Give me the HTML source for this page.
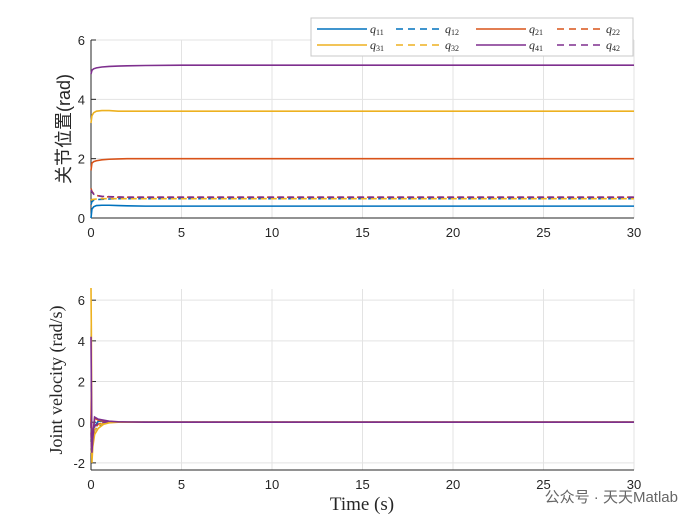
<!DOCTYPE html>
<html><head><meta charset="utf-8"><style>
body{margin:0;background:#fff}
svg text{font-family:"Liberation Sans","Noto Sans CJK SC",sans-serif;fill:#262626}
</style></head><body>
<svg id="c" width="700" height="525" xmlns="http://www.w3.org/2000/svg"></svg>
<script>
const times=[0,0.05,0.15,0.3,0.6,1,1.5,2,3,5,30];
const posNames=["q11","q12","q21","q22","q31","q32","q41","q42"];
const posQ11=[0,0.3,0.38,0.42,0.43,0.43,0.42,0.41,0.4,0.4,0.4];
const posQ12=[0.45,0.55,0.6,0.62,0.63,0.64,0.65,0.65,0.65,0.65,0.65];
const posQ21=[1.6,1.85,1.9,1.93,1.96,1.98,1.99,2,2,2,2];
const posQ22=[1.0,0.9,0.82,0.76,0.72,0.71,0.7,0.7,0.7,0.7,0.7];
const posQ31=[3.2,3.45,3.55,3.6,3.62,3.62,3.6,3.6,3.6,3.6,3.6];
const posQ32=[0.6,0.62,0.63,0.64,0.65,0.65,0.65,0.65,0.65,0.65,0.65];
const posQ41=[4.85,4.98,5.03,5.06,5.09,5.11,5.12,5.13,5.14,5.15,5.15];
const posQ42=[0.95,0.88,0.8,0.76,0.73,0.72,0.71,0.7,0.7,0.7,0.7];
const velTimes=[0,0.02,0.05,0.1,0.2,0.4,0.7,1,1.5,2,3,5,30];
const velQ11=[0,0.5,-0.6,-0.4,-0.2,0.05,0.05,0.02,0.01,0,0,0,0];
const velQ12=[0,-0.5,-1.0,-0.6,-0.4,-0.2,-0.05,0,0,0,0,0,0];
const velQ21=[0,1.5,-1.0,-0.6,0.2,0.1,0.05,0.03,0.01,0,0,0,0];
const velQ22=[0,-1.0,-1.8,-0.8,-0.3,-0.1,-0.03,0,0,0,0,0,0];
const velQ31=[6.6,4.5,-2.0,-1.2,-0.6,-0.3,-0.1,-0.03,0,0,0,0,0];
const velQ32=[0,-1.5,-1.2,-0.8,-0.4,-0.15,-0.05,0,0,0,0,0,0];
const velQ41=[4.2,2.0,-1.5,-0.8,0.25,0.15,0.1,0.05,0.02,0.01,0,0,0];
const velQ42=[0,-1.2,-1.6,-0.7,-0.2,-0.05,0,0,0,0,0,0,0];
const xTicks=[0,5,10,15,20,25,30];
const posTicks=[0,2,4,6];
const velTicks=[-2,0,2,4,6];
const colors={q1:"#0072BD",q2:"#D95319",q3:"#EDB120",q4:"#7E2F8E"};
const NS="http://www.w3.org/2000/svg";
const svg=document.getElementById("c");
function mk(tag,attrs,parent){const e=document.createElementNS(NS,tag);for(const k in attrs)e.setAttribute(k,attrs[k]);(parent||svg).appendChild(e);return e;}
const X0=91,X1=634;
function xs(t){return X0+(t/30)*(X1-X0);}
function axes(top,bot,ymin,ymax,yticks,name){
  const ys=v=>bot-(v-ymin)/(ymax-ymin)*(bot-top);
  const g=mk("g",{});
  
  
  xTicks.forEach(t=>{mk("line",{x1:xs(t),x2:xs(t),y1:top,y2:bot,stroke:"#e3e3e3","stroke-width":1},g);
    const tx=mk("text",{x:xs(t),y:bot+19,"font-size":13,"text-anchor":"middle"},g);tx.textContent=t;
    
    });
  yticks.forEach(v=>{mk("line",{x1:X0,x2:X1,y1:ys(v),y2:ys(v),stroke:"#e3e3e3","stroke-width":1},g);
    const tx=mk("text",{x:X0-6,y:ys(v)+5,"font-size":13,"text-anchor":"end"},g);tx.textContent=v;
    
    
    mk("line",{x1:X0,x2:X0+5,y1:ys(v),y2:ys(v),stroke:"#262626"},g);});
  mk("line",{x1:X0,x2:X0,y1:top,y2:bot,stroke:"#262626"},g);
  mk("line",{x1:X0,x2:X1,y1:bot,y2:bot,stroke:"#262626"},g);
  return ys;
}
function series(tt,vals,ys,color,dash,name){
  const d=tt.map((t,i)=>(i?"L":"M")+xs(t).toFixed(2)+","+ys(vals[i]).toFixed(2)).join("");
  const p=mk("path",{d:d,fill:"none",stroke:color,"stroke-width":1.6,"stroke-dasharray":dash?"6,4":"none"});
  
  
}
const ys1=axes(40,218,0,6,posTicks,"position-axes");
const pos=[posQ11,posQ12,posQ21,posQ22,posQ31,posQ32,posQ41,posQ42];
pos.forEach((v,i)=>series(times,v,ys1,colors["q"+(Math.floor(i/2)+1)],i%2==1,"pos-line-"+posNames[i]));
const ys2=axes(289,470,-2.35,6.55,velTicks,"velocity-axes");
const vel=[velQ11,velQ12,velQ21,velQ22,velQ31,velQ32,velQ41,velQ42];
[0,1,2,3,5,7,4,6].forEach(i=>series(velTimes,vel[i],ys2,colors["q"+(Math.floor(i/2)+1)],i%2==1,"vel-line-"+posNames[i]));
let t=mk("text",{x:0,y:0,"font-size":18,"text-anchor":"middle",transform:"translate(70,129) rotate(-90)"});
t.textContent="关节位置(rad)";
t=mk("text",{x:0,y:0,"font-size":18,"text-anchor":"middle",transform:"translate(62,380) rotate(-90)",style:"font-family:'Liberation Serif',serif"});
t.textContent="Joint velocity (rad/s)";
t=mk("text",{x:362,y:510,"font-size":19,"text-anchor":"middle",style:"font-family:'Liberation Serif',serif"});
t.textContent="Time (s)";
const lg=mk("g",{});


mk("rect",{x:311,y:18,width:322,height:38,fill:"#fff",stroke:"#c8c8c8"},lg);
const colX=[317,396,476,557];
posNames.forEach((n,i)=>{
  const row=Math.floor(i/4);
  const col=i%4;const y=row?45:29;
  const c=colors["q"+(Math.floor(i/2)+1)];
  const len=i%2?46:50;
  mk("line",{x1:colX[col],x2:colX[col]+len,y1:y,y2:y,stroke:c,"stroke-width":1.6,"stroke-dasharray":i%2?"7,5":"none"},lg);
  const tx=mk("text",{x:colX[col]+len+3,y:y+4,"font-size":12,"font-style":"italic",style:"font-family:'Liberation Serif',serif"},lg);
  tx.innerHTML="q<tspan font-size='8' dy='2' font-style='normal'>"+n.slice(1)+"</tspan>";
  
  
});
t=mk("text",{x:678,y:502,"font-size":15,"text-anchor":"end",style:"fill:#666"});
t.textContent="公众号 · 天天Matlab";
</script>
</body></html>
